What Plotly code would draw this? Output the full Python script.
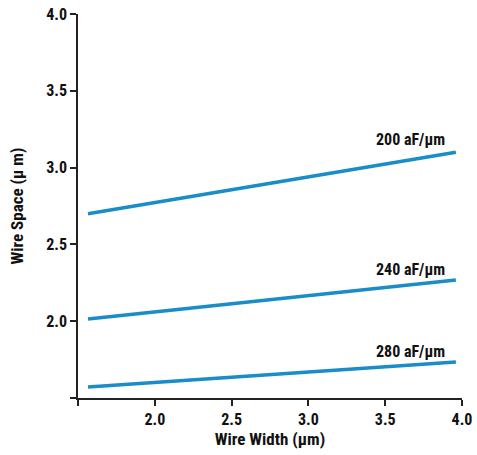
import plotly.graph_objects as go

width_um = [1.565, 2.76, 3.96]
space_200 = [2.70, 2.90, 3.10]
space_240 = [2.015, 2.14, 2.268]
space_280 = [1.572, 1.655, 1.734]
series = [("200 aF/\u03bcm", space_200, 3.18),
          ("240 aF/\u03bcm", space_240, 2.335),
          ("280 aF/\u03bcm", space_280, 1.80)]
tick_vals = [1.5, 2.0, 2.5, 3.0, 3.5, 4.0]
tick_text = ["", "2.0", "2.5", "3.0", "3.5", "4.0"]

FONT = "Liberation Sans Narrow, Roboto Condensed, Arial Narrow, Liberation Sans, Arial"
color = "#1a8cc8"

fig = go.Figure()
for name, ys, ly in series:
    fig.add_trace(go.Scatter(x=width_um, y=ys, mode="lines",
                             line=dict(color=color, width=3.5),
                             showlegend=False, hoverinfo="skip"))
    fig.add_annotation(x=3.9, y=ly, text="<b>%s</b>" % name, showarrow=False,
                       xanchor="right", yanchor="middle",
                       font=dict(family=FONT, size=16, color="#111"))

axis_common = dict(range=[1.5, 4.0], tickvals=tick_vals, ticktext=tick_text,
                   showgrid=False, zeroline=False, showline=True, automargin=False,
                   linecolor="#222", linewidth=1.5, ticks="outside",
                   ticklen=6, tickwidth=1.5, tickcolor="#222",
                   tickfont=dict(family=FONT, size=16, color="#111", weight="bold"))

fig.update_xaxes(**axis_common,
                 title=dict(text="<b>Wire Width (\u03bcm)</b>", standoff=4,
                            font=dict(family=FONT, size=17, color="#111")))
fig.update_yaxes(**axis_common,
                 title=dict(text="<b>Wire Space (\u00b5 m)</b>", standoff=18,
                            font=dict(family=FONT, size=17, color="#111")))

fig.update_layout(width=477, height=455, plot_bgcolor="white", paper_bgcolor="white",
                  margin=dict(l=78, r=15, t=14, b=57))
fig.write_html("out.html")
